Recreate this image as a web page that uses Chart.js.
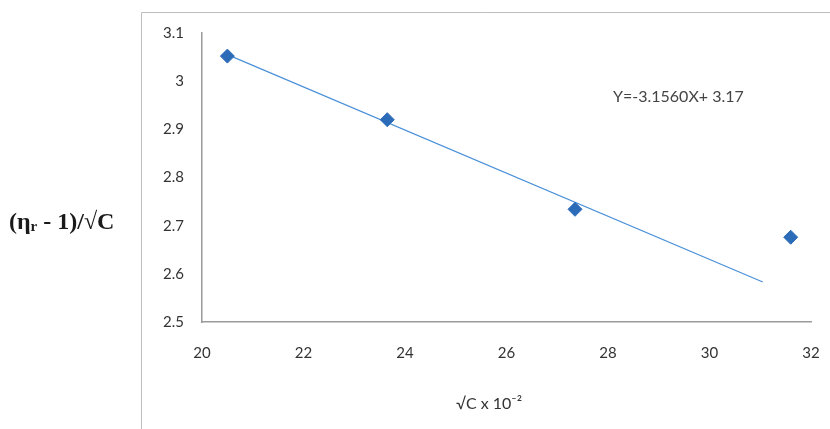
<!DOCTYPE html>
<html>
<head>
<meta charset="utf-8">
<script src="https://cdn.jsdelivr.net/npm/chart.js@4.4.1/dist/chart.umd.min.js"></script>
<style>
  html, body { margin: 0; padding: 0; background: #fff; }
  #wrap { width: 830px; height: 429px; }
</style>
</head>
<body>
<div id="wrap"><canvas id="myChart"></canvas></div>
<script>
// data
const sqrtC = [20.5, 23.65, 27.35, 31.6];
const viscY = [3.052, 2.92, 2.734, 2.676];
const trendX = [20.5, 31.05];
const trendY = [3.055, 2.583];
const xTicks = [20, 22, 24, 26, 28, 30, 32];
const yTicks = [2.5, 2.6, 2.7, 2.8, 2.9, 3, 3.1];
const equation = 'Y=-3.1560X+ 3.17';

const tickFont = { family: 'Lato', size: 15 };

// border, axis titles and equation text
const extras = {
  id: 'extras',
  beforeDraw(chart) {
    const ctx = chart.ctx;
    ctx.save();
    ctx.strokeStyle = '#bdbdbd';
    ctx.lineWidth = 1;
    ctx.beginPath();
    ctx.moveTo(141.5, 429);
    ctx.lineTo(141.5, 12.5);
    ctx.lineTo(830, 12.5);
    ctx.stroke();
    ctx.restore();
  },
  afterDraw(chart) {
    const ctx = chart.ctx;
    ctx.save();
    ctx.fillStyle = '#1a1a1a';
    ctx.textBaseline = 'middle';
    ctx.textAlign = 'left';
    // y title with subscript r
    let x = 9;
    const y = 223;
    ctx.font = 'bold 24px "Liberation Serif"';
    ctx.fillText('(η', x, y);
    x += ctx.measureText('(η').width;
    ctx.font = 'bold 15px "Liberation Serif"';
    ctx.fillText('r', x, y + 4);
    x += ctx.measureText('r').width;
    ctx.font = 'bold 24px "Liberation Serif"';
    ctx.fillText(' - 1)/√C', x, y);

    // x title
    ctx.fillStyle = '#333';
    ctx.font = '16px Lato';
    ctx.textAlign = 'center';
    ctx.fillText('√C x 10⁻²', 489, 404);

    // equation
    ctx.fillStyle = '#444';
    ctx.font = '16px Lato';
    ctx.textAlign = 'left';
    ctx.fillText(equation, 613, 97);
    ctx.restore();
  }
};

const data = {
  datasets: [{
    label: 'data',
    data: sqrtC.map((v, i) => ({ x: v, y: viscY[i] })),
    pointStyle: 'rectRot',
    pointRadius: 7,
    pointHoverRadius: 7,
    backgroundColor: '#2c6bb8',
    borderColor: '#2c6bb8',
    showLine: false
  }, {
    label: 'trend',
    data: trendX.map((v, i) => ({ x: v, y: trendY[i] })),
    showLine: true,
    borderColor: '#4a90d9',
    borderWidth: 1.2,
    pointRadius: 0
  }]
};

const config = {
  type: 'scatter',
  data: data,
  options: {
    responsive: true,
    maintainAspectRatio: false,
    animation: false,
    layout: { padding: { top: 33, right: 19, left: 0, bottom: 0 } },
    plugins: {
      legend: { display: false },
      tooltip: { enabled: false }
    },
    scales: {
      x: {
        type: 'linear',
        min: 20,
        max: 32,
        afterBuildTicks(scale) { scale.ticks = xTicks.map(v => ({ value: v })); },
        afterFit(scale) {
          scale.height = 107;
          scale.paddingLeft = 0;
          scale.paddingRight = 0;
        },
        grid: { display: false },
        border: { display: true, color: '#9a9a9a', width: 1.5 },
        ticks: { color: '#333', font: tickFont, padding: 14, callback: v => String(v) }
      },
      y: {
        type: 'linear',
        min: 2.5,
        max: 3.1,
        afterBuildTicks(scale) { scale.ticks = yTicks.map(v => ({ value: v })); },
        afterFit(scale) {
          scale.width = 202;
          scale.paddingTop = 0;
          scale.paddingBottom = 0;
        },
        grid: { display: false },
        border: { display: true, color: '#9a9a9a', width: 1.5 },
        ticks: { color: '#333', font: tickFont, padding: 10, callback: v => String(v) }
      }
    }
  },
  plugins: [extras]
};

const myChart = new Chart(document.getElementById('myChart'), config);
</script>
</body>
</html>
